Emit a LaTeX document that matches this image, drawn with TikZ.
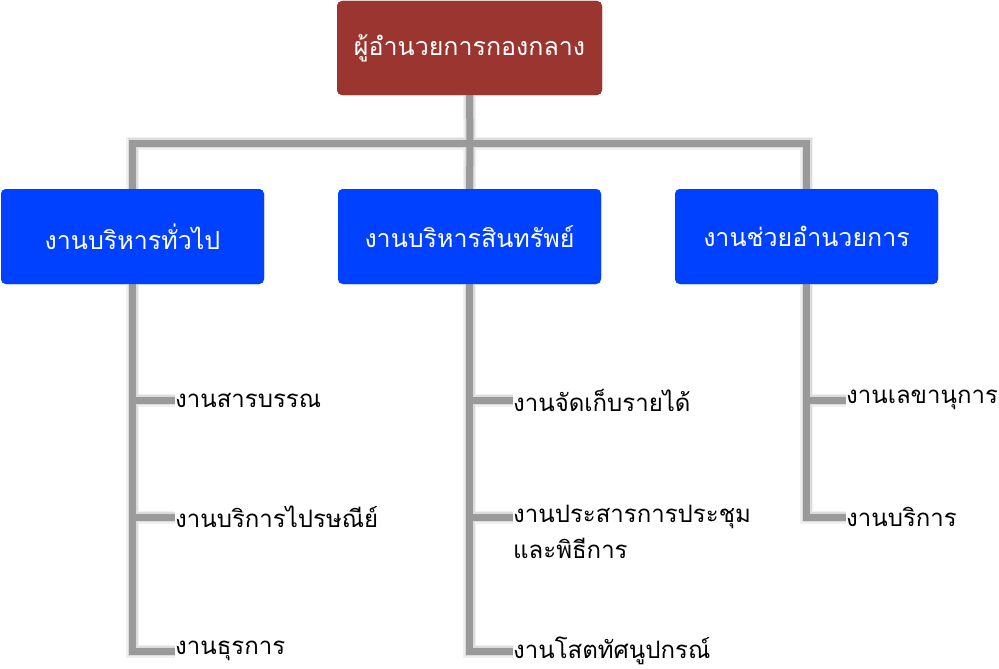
\documentclass[tikz,border=0pt]{standalone}
\usepackage{fontspec}
\newfontfamily\thaifont[Script=Thai]{Loma}
\definecolor{boxred}{HTML}{9B3530}
\definecolor{boxblue}{HTML}{0040FF}
\definecolor{linegray}{HTML}{9A9A9A}
\tikzset{
  headbox/.style={draw=none, fill=boxred, rounded corners=5pt, minimum width=265pt, minimum height=94pt, text=white, font=\thaifont\fontsize{25}{30}\selectfont, inner sep=0pt},
  deptbox/.style={draw=none, fill=boxblue, rounded corners=5pt, minimum width=263pt, minimum height=95pt, text=white, font=\thaifont\fontsize{25}{30}\selectfont, inner sep=0pt},
  leaf/.style={anchor=west, inner sep=0pt, text=black, font=\thaifont\fontsize{24}{29}\selectfont},
  conn/.style={draw=linegray, line width=7pt},
  connhaloa/.style={draw=linegray!15, line width=13pt},
  connhalob/.style={draw=linegray!35, line width=10pt},
}
\begin{document}
\begin{tikzpicture}[x=1pt,y=-1pt]
\useasboundingbox (0,0) rectangle (999,669);
% nodes
\node[headbox] (top) at (469.5,48) {ผู้อำนวยการกองกลาง};
\node[deptbox] (b1) at (132.5,236.5) {งานบริหารทั่วไป};
\node[deptbox] (b2) at (469.5,236.5) {งานบริหารสินทรัพย์};
\node[deptbox] (b3) at (806.5,236.5) {งานช่วยอำนวยการ};
\coordinate (bus) at (470,143);
\node[leaf] (l11) at (175,400) {งานสารบรรณ};
\node[leaf] (l12) at (175,517) {งานบริการไปรษณีย์};
\node[leaf] (l13) at (175,651) {งานธุรการ};
\node[leaf] (l21) at (513,400) {งานจัดเก็บรายได้};
\node[leaf] (l22) at (513,517) {งานประสารการประชุม};
\node[leaf] (l22b) at (513,548) {และพิธีการ};
\node[leaf] (l23) at (513,651) {งานโสตทัศนูปกรณ์};
\node[leaf] (l31) at (846,400) {งานเลขานุการ};
\node[leaf] (l32) at (846,517) {งานบริการ};
% connectors
\foreach \s in {connhaloa,connhalob,conn}{
  \draw[\s] (top.south) -- (bus);
  \draw[\s] (b1.north) |- (bus) -| (b3.north);
  \draw[\s] (bus) -- (b2.north);
  \draw[\s] (b1.south) |- (l11.west);
  \draw[\s] (b1.south) |- (l12.west);
  \draw[\s] (b1.south) |- (l13.west);
  \draw[\s] (b2.south) |- (l21.west);
  \draw[\s] (b2.south) |- (l22.west);
  \draw[\s] (b2.south) |- (l23.west);
  \draw[\s] (b3.south) |- (l31.west);
  \draw[\s] (b3.south) |- (l32.west);
}
% redraw boxes on top
\node[headbox] at (top) {ผู้อำนวยการกองกลาง};
\node[deptbox] at (b1) {งานบริหารทั่วไป};
\node[deptbox] at (b2) {งานบริหารสินทรัพย์};
\node[deptbox] at (b3) {งานช่วยอำนวยการ};
\end{tikzpicture}
\end{document}
